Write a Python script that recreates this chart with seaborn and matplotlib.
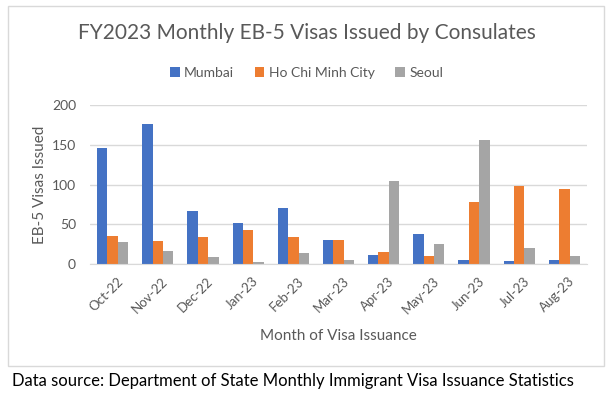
import pandas as pd
import matplotlib.pyplot as plt
import matplotlib.transforms as mtransforms
import seaborn as sns
from matplotlib.patches import Rectangle

# -----------------------------
# DATA
# -----------------------------
months = ["Oct-22", "Nov-22", "Dec-22", "Jan-23", "Feb-23", "Mar-23",
          "Apr-23", "May-23", "Jun-23", "Jul-23", "Aug-23"]
mumbai = [146, 176, 67, 52, 70, 30, 11, 38, 5, 4, 5]
hcmc = [35, 29, 34, 43, 34, 30, 15, 10, 78, 98, 94]
seoul = [28, 16, 9, 3, 14, 5, 104, 25, 156, 20, 10]
consulates = ["Mumbai", "Ho Chi Minh City", "Seoul"]
colors = ["#4472C4", "#ED7D31", "#A5A5A5"]

df = pd.DataFrame({"Month": months, "Mumbai": mumbai,
                   "Ho Chi Minh City": hcmc, "Seoul": seoul})
df = df.melt(id_vars="Month", var_name="Consulate", value_name="Visas")

# -----------------------------
# PLOT
# -----------------------------
sns.set_style("white")
plt.rcParams["font.family"] = ["Lato", "DejaVu Sans"]
text_gray = "#595959"

W, H = 613, 394
fig = plt.figure(figsize=(W / 100, H / 100), dpi=100)
ax = fig.add_axes([90 / W, 1 - 264 / H, (587 - 90) / W, 159 / H])

sns.barplot(data=df, x="Month", y="Visas", hue="Consulate", order=months,
            hue_order=consulates, palette=colors, width=0.69, saturation=1,
            linewidth=0, ax=ax, legend=True)

ax.set_ylim(0, 200)
ax.set_yticks([0, 50, 100, 150, 200])
ax.yaxis.grid(True, color="#D9D9D9", linewidth=1)
ax.set_axisbelow(True)
for s in ["top", "right", "left"]:
    ax.spines[s].set_visible(False)
ax.spines["bottom"].set_color("#D9D9D9")
ax.tick_params(axis="y", length=0, colors=text_gray, labelsize=10, pad=10)
ax.tick_params(axis="x", length=0, colors=text_gray, labelsize=9.5, pad=8)
shift = mtransforms.ScaledTranslation(4 / 100, 0, fig.dpi_scale_trans)
for lbl in ax.get_xticklabels():
    lbl.set_rotation(45)
    lbl.set_ha("right")
    lbl.set_rotation_mode("anchor")
    lbl.set_transform(lbl.get_transform() + shift)
ax.set_xlabel("Month of Visa Issuance", color=text_gray, fontsize=11, va="center")
ax.set_ylabel("EB-5 Visas Issued", color=text_gray, fontsize=11, va="center")
ax.xaxis.set_label_coords(0.5, (264 - 336) / 159)
ax.yaxis.set_label_coords((40 - 90) / 497, 0.5)

ax.legend(loc="center", bbox_to_anchor=(0.5, 1 - 73 / H), bbox_transform=fig.transFigure,
          ncol=3, frameon=False, fontsize=10, labelcolor=text_gray,
          handlelength=0.7, handleheight=0.7, handletextpad=0.3, columnspacing=1.5)

fig.text(0.5, 1 - 33 / H, "FY2023 Monthly EB-5 Visas Issued by Consulates",
         ha="center", va="center", fontsize=15, color=text_gray)

# chart border
fig.patches.append(Rectangle((8 / W, 1 - 366 / H), 596 / W, 360 / H,
                             transform=fig.transFigure, fill=False,
                             edgecolor="#D9D9D9", linewidth=1))

fig.text(12 / W, 1 - 381 / H,
         "Data source: Department of State Monthly Immigrant Visa Issuance Statistics",
         ha="left", va="center", fontsize=12, color="black")

fig.savefig("out.png", dpi=100)
